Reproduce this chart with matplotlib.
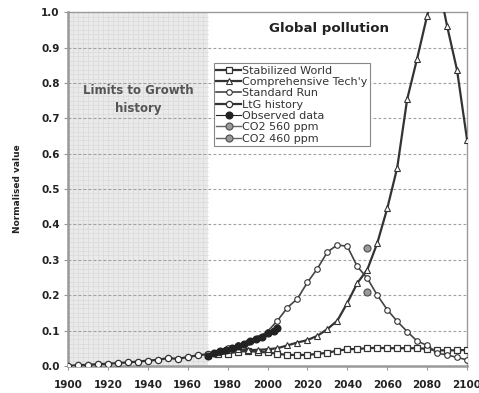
import matplotlib
matplotlib.use("Agg")
import matplotlib.pyplot as plt
import numpy as np

# ---- data ----
ltg_years = [1900, 1905, 1910, 1915, 1920, 1925, 1930, 1935, 1940, 1945, 1950, 1955, 1960, 1965, 1970]
ltg_history = [0.0, 0.002, 0.003, 0.005, 0.006, 0.008, 0.010, 0.012, 0.015, 0.017, 0.022, 0.020, 0.025, 0.030, 0.033]

sim_years = [1970, 1975, 1980, 1985, 1990, 1995, 2000, 2005, 2010, 2015, 2020, 2025, 2030, 2035,
             2040, 2045, 2050, 2055, 2060, 2065, 2070, 2075, 2080, 2085, 2090, 2095, 2100]
stabilized = [0.030, 0.033, 0.035, 0.040, 0.042, 0.040, 0.038, 0.034, 0.031, 0.031, 0.031, 0.034, 0.037, 0.043,
              0.047, 0.048, 0.050, 0.051, 0.050, 0.050, 0.050, 0.050, 0.048, 0.044, 0.044, 0.044, 0.045]
comp_tech = [0.030, 0.040, 0.045, 0.047, 0.045, 0.045, 0.047, 0.050, 0.058, 0.066, 0.073, 0.085, 0.104, 0.128,
             0.178, 0.234, 0.272, 0.347, 0.445, 0.560, 0.754, 0.869, 0.990, 1.100, 0.961, 0.836, 0.640]
standard_run = [0.033, 0.040, 0.050, 0.058, 0.068, 0.080, 0.097, 0.128, 0.165, 0.190, 0.236, 0.275, 0.322, 0.342,
                0.338, 0.281, 0.248, 0.200, 0.159, 0.126, 0.097, 0.070, 0.058, 0.036, 0.031, 0.024, 0.017]

obs_years = [1970, 1973, 1976, 1979, 1982, 1985, 1988, 1991, 1994, 1997, 2000, 2003, 2005]
observed = [0.029, 0.036, 0.041, 0.046, 0.051, 0.057, 0.063, 0.069, 0.075, 0.083, 0.092, 0.100, 0.106]

co2_years = [2050]
co2_560 = [0.333]
co2_460 = [0.210]

xticks = [1900, 1920, 1940, 1960, 1980, 2000, 2020, 2040, 2060, 2080, 2100]
yticks = [0.0, 0.1, 0.2, 0.3, 0.4, 0.5, 0.6, 0.7, 0.8, 0.9, 1.0]

# ---- figure ----
fig = plt.figure(figsize=(4.79, 3.93), dpi=100)
ax = fig.add_axes([0.142, 0.069, 0.833, 0.900])
ax.set_xlim(1900, 2100)
ax.set_ylim(0, 1.0)

# shaded history region with fine grid
ax.axvspan(1900, 1970, color="#eaeaea", zorder=0, lw=0)
for gx in np.arange(1902.5, 1970, 2.5):
    ax.plot([gx, gx], [0, 1], color="#dadada", lw=0.5, zorder=0.5)
for gy in np.arange(0.0125, 1.0, 0.0125):
    ax.plot([1900, 1970], [gy, gy], color="#dadada", lw=0.5, zorder=0.5)

for yv in yticks[1:-1]:
    ax.plot([1900, 2100], [yv, yv], color="#a0a0a0", lw=0.8, ls=(0, (2.5, 2)), zorder=1)

dark = "#333333"
ax.plot(sim_years, stabilized, color=dark, lw=1.6, marker="s", ms=4, mfc="white", mec=dark, mew=0.9,
        label="Stabilized World", zorder=3)
ax.plot(sim_years, comp_tech, color=dark, lw=1.6, marker="^", ms=4.5, mfc="white", mec=dark, mew=0.8,
        label="Comprehensive Tech'y", zorder=4)
ax.plot(sim_years, standard_run, color="#444444", lw=1.2, marker="o", ms=4, mfc="white", mec=dark, mew=0.8,
        label="Standard Run", zorder=4)
ax.plot(ltg_years, ltg_history, color=dark, lw=1.6, marker="o", ms=4.5, mfc="white", mec=dark, mew=0.9,
        label="LtG history", zorder=4)
ax.plot(obs_years, observed, color="#222222", lw=0.8, marker="o", ms=4.8, mfc="#222222", mec="#222222",
        label="Observed data", zorder=5)
ax.plot(co2_years, co2_560, color="#666666", lw=1.0, marker="o", ms=5, mfc="#9a9a9a", mec="#555555", mew=0.9,
        label="CO2 560 ppm", zorder=5)
ax.plot(co2_years, co2_460, color="#666666", lw=1.0, marker="o", ms=5, mfc="#9a9a9a", mec="#555555", mew=0.9,
        label="CO2 460 ppm", zorder=5)

ax.set_xticks(xticks)
ax.set_yticks(yticks)
ax.set_xticklabels([str(x) for x in xticks], fontsize=7.5, fontweight="bold", color="#222222")
ax.set_yticklabels([f"{y:.1f}" for y in yticks], fontsize=7.5, fontweight="bold", color="#222222")
ax.tick_params(axis="x", length=3, width=0.8, color="#999999", pad=7, direction="out")
ax.tick_params(axis="y", length=3, width=0.8, color="#999999", pad=3)
for s in ax.spines.values():
    s.set_color("#999999")
    s.set_linewidth(1.0)
ax.spines["left"].set_linewidth(1.8)
ax.spines["bottom"].set_linewidth(1.8)

ax.set_ylabel("Normalised value", fontsize=6.5, fontweight="bold", color="#222222", labelpad=14)

ax.text(2031, 0.955, "Global pollution", fontsize=9.6, fontweight="bold", ha="center", va="center",
        color="#222222", zorder=6)
ax.text(1935, 0.753, "Limits to Growth\nhistory", fontsize=8.5, fontweight="bold", ha="center", va="center",
        color="#555555", linespacing=1.5, zorder=6)

leg = ax.legend(loc="upper left", bbox_to_anchor=(0.365, 0.857), fontsize=8, frameon=True,
                fancybox=False, edgecolor="#888888", framealpha=1.0, borderpad=0.25,
                labelspacing=0.12, handlelength=2.2, handletextpad=0.1, borderaxespad=0)
leg.get_frame().set_linewidth(0.8)
for t in leg.get_texts():
    t.set_color("#333333")

fig.savefig("out.png", dpi=100)
